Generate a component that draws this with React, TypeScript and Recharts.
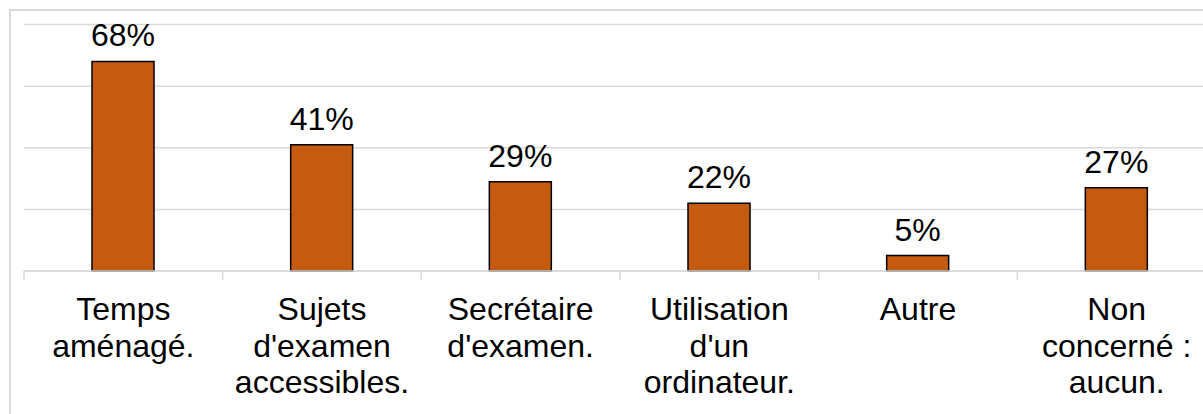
import React from 'react';
import { BarChart, Bar, XAxis, YAxis, CartesianGrid, LabelList } from 'recharts';

const categories = ['Temps aménagé.', "Sujets d'examen accessibles.", "Secrétaire d'examen.", "Utilisation d'un ordinateur.", 'Autre', 'Non concerné : aucun.'];
const categoryLines: string[][] = [
  ['Temps', 'aménagé.'],
  ['Sujets', "d'examen", 'accessibles.'],
  ['Secrétaire', "d'examen."],
  ['Utilisation', "d'un", 'ordinateur.'],
  ['Autre'],
  ['Non', 'concerné :', 'aucun.'],
];
const values = [68, 41, 29, 22, 5, 27];
const yTicks = [0, 20, 40, 60, 80];

const data = categories.map((c, i) => ({ name: c, value: values[i], idx: i }));

const FONT = 'Arial, "Liberation Sans", sans-serif';
const FS = 32;
const CHART_W = 1240;
const MARGIN_L = 24;
const MARGIN_R = 24;
const PLOT_W = CHART_W - MARGIN_L - MARGIN_R;

const CategoryTick = (props: any) => {
  const { x, y, payload, index } = props;
  const half = payload && payload.offset ? payload.offset : PLOT_W / categories.length / 2;
  const lines = categoryLines[index] || [String(payload.value)];
  const isLast = index === categories.length - 1;
  return (
    <g>
      <line x1={x - half} x2={x - half} y1={y} y2={y + 9} stroke="#d9d9d9" strokeWidth={1.5} />
      {isLast && <line x1={x + half} x2={x + half} y1={y} y2={y + 9} stroke="#d9d9d9" strokeWidth={1.5} />}
      <text x={x} y={y} textAnchor="middle" fontFamily={FONT} fontSize={FS} fill="#000">
        {lines.map((l, i) => (
          <tspan key={i} x={x} y={y + 49 + i * 36.7}>{l}</tspan>
        ))}
      </text>
    </g>
  );
};

export default function App() {
  return (
    <div style={{ position: 'absolute', left: 0, top: 0, width: 1203, height: 414, overflow: 'hidden', background: '#fff' }}>
      <div style={{ position: 'absolute', left: 9, top: 9, width: 1260, height: 440, border: '2px solid #d9d9d9', boxSizing: 'border-box' }} />
      <div style={{ position: 'absolute', left: 0, top: 0 }}>
        <BarChart width={CHART_W} height={430} data={data} margin={{ top: 24.5, right: MARGIN_R, left: MARGIN_L, bottom: 0 }}>
          <CartesianGrid vertical={false} stroke="#d9d9d9" strokeWidth={1.5} />
          <YAxis hide domain={[0, 80]} ticks={yTicks} />
          <XAxis
            dataKey="name"
            height={159}
            interval={0}
            tickLine={false}
            tickSize={0}
            tickMargin={0}
            axisLine={{ stroke: '#d9d9d9', strokeWidth: 1.5 }}
            tick={<CategoryTick />}
          />
          <Bar dataKey="value" fill="#C55A11" stroke="#000" strokeWidth={1.5} barSize={62} isAnimationActive={false}>
            <LabelList
              dataKey="value"
              position="top"
              offset={15}
              formatter={(v: any) => `${v}%`}
              style={{ fontFamily: FONT, fontSize: FS, fill: '#000' }}
            />
          </Bar>
        </BarChart>
      </div>
    </div>
  );
}
